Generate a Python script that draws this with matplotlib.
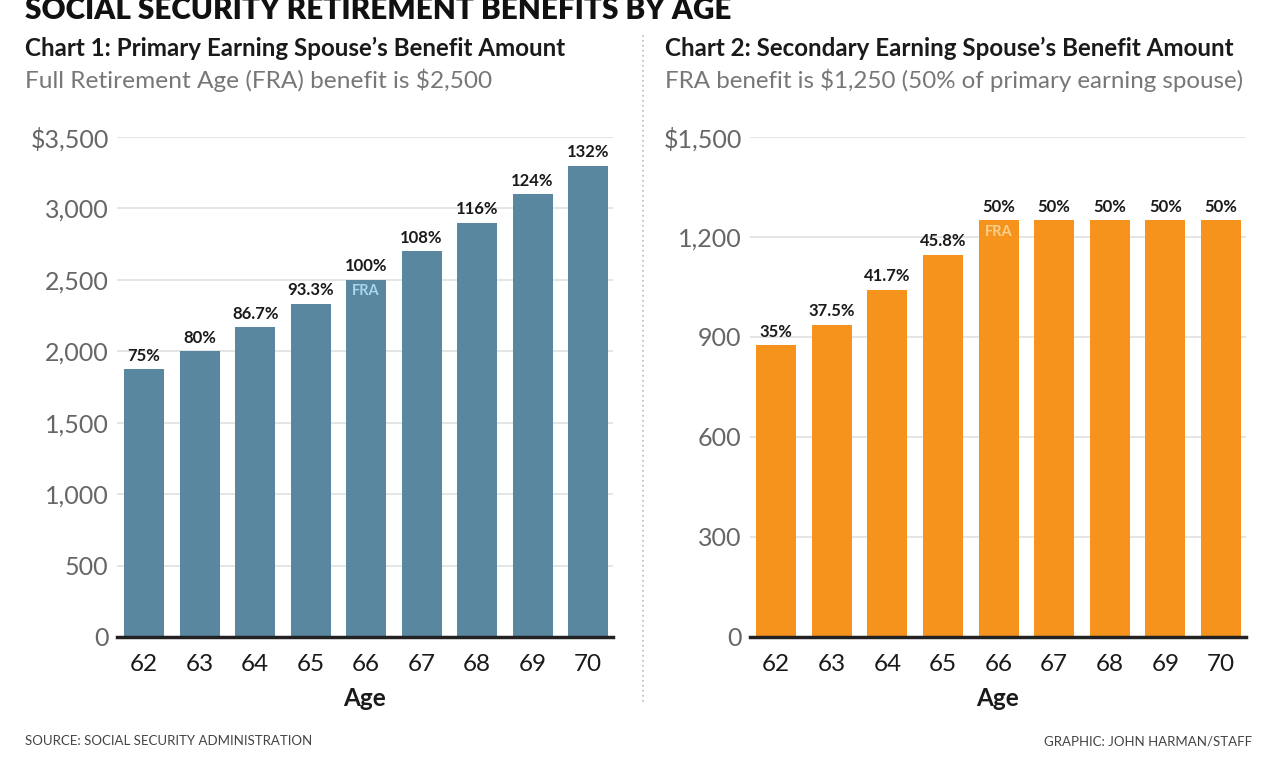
import matplotlib
matplotlib.use("Agg")
import matplotlib.pyplot as plt
from matplotlib.ticker import FuncFormatter

plt.rcParams['font.family'] = ['Lato', 'DejaVu Sans']

ages = ["62", "63", "64", "65", "66", "67", "68", "69", "70"]
primary_values = [1875, 2000, 2167, 2333, 2500, 2700, 2900, 3100, 3300]
primary_labels = ["75%", "80%", "86.7%", "93.3%", "100%", "108%", "116%", "124%", "132%"]
secondary_values = [875, 937.5, 1042, 1146, 1250, 1250, 1250, 1250, 1250]
secondary_labels = ["35%", "37.5%", "41.7%", "45.8%", "50%", "50%", "50%", "50%", "50%"]
primary_ticks = [0, 500, 1000, 1500, 2000, 2500, 3000, 3500]
secondary_ticks = [0, 300, 600, 900, 1200, 1500]
fra_index = 4

W, H = 1278, 760
fig = plt.figure(figsize=(W / 100, H / 100), dpi=100)
fig.patch.set_facecolor("white")


def px_axes(x0, x1, ytop, ybot):
    return fig.add_axes([x0 / W, 1 - ybot / H, (x1 - x0) / W, (ybot - ytop) / H])


def draw_panel(ax, values, labels, ticks, color, fra_color, xlim):
    x = list(range(len(values)))
    ax.bar(x, values, width=0.72, color=color, zorder=2)
    ax.set_xlim(*xlim)
    ax.set_ylim(0, ticks[-1])
    ax.set_yticks(ticks)
    ax.yaxis.grid(True, color="#e3e3e3", linewidth=1.3, zorder=0)
    ax.set_axisbelow(True)
    for s in ["top", "right", "left"]:
        ax.spines[s].set_visible(False)
    ax.spines["bottom"].set_color("#222222")
    ax.spines["bottom"].set_linewidth(2.5)
    ax.spines["bottom"].set_zorder(3)
    ax.tick_params(axis="y", length=0, pad=6, labelsize=18, labelcolor="#666666")
    ax.tick_params(axis="x", length=0, pad=12, labelsize=17.5)
    ax.set_xticks(x)
    ax.set_xticklabels(ages, color="#1a1a1a")
    top = ticks[-1]
    fmt = FuncFormatter(lambda v, p: ("$" if v == top else "") + f"{int(v):,}")
    ax.yaxis.set_major_formatter(fmt)
    ax.set_xlabel("Age", fontsize=17.5, fontweight="bold", color="#1a1a1a", labelpad=9)
    for xi, v, lab in zip(x, values, labels):
        ax.annotate(lab, (xi, v), xytext=(0, 4), textcoords="offset points",
                    ha="center", va="bottom", fontsize=12, fontweight="bold",
                    color="#1a1a1a")
    ax.annotate("FRA", (fra_index, values[fra_index]), xytext=(0, -3),
                textcoords="offset points", ha="center", va="top", fontsize=10.5,
                fontweight="bold", color=fra_color)


ax1 = px_axes(117, 613, 137, 637)
draw_panel(ax1, primary_values, primary_labels, primary_ticks, "#5a87a0", "#a9d6ee",
           (-0.49, 8.45))
ax2 = px_axes(750, 1246, 137, 637)
draw_panel(ax2, secondary_values, secondary_labels, secondary_ticks, "#f6931c", "#fbd08a",
           (-0.47, 8.45))

fig.text(25 / W, 1 - 10 / H, "SOCIAL SECURITY RETIREMENT BENEFITS BY AGE",
         fontsize=21.3, fontweight="heavy", color="#111111", ha="left", va="center")
fig.text(25 / W, 1 - 48 / H, "Chart 1: Primary Earning Spouse\u2019s Benefit Amount",
         fontsize=17.4, fontweight="bold", color="#1a1a1a", ha="left", va="center")
fig.text(25 / W, 1 - 80 / H, "Full Retirement Age (FRA) benefit is $2,500",
         fontsize=17.6, color="#777777", ha="left", va="center")
fig.text(665 / W, 1 - 48 / H, "Chart 2: Secondary Earning Spouse\u2019s Benefit Amount",
         fontsize=17.4, fontweight="bold", color="#1a1a1a", ha="left", va="center")
fig.text(665 / W, 1 - 80 / H, "FRA benefit is $1,250 (50% of primary earning spouse)",
         fontsize=17.4, color="#777777", ha="left", va="center")

fig.text(25 / W, 1 - 741 / H, "SOURCE: SOCIAL SECURITY ADMINISTRATION",
         fontsize=9.5, color="#444444", ha="left", va="center")
fig.text(1252 / W, 1 - 741 / H, "GRAPHIC: JOHN HARMAN/STAFF",
         fontsize=9.5, color="#444444", ha="right", va="center")

fig.add_artist(plt.Line2D([643 / W, 643 / W], [1 - 35 / H, 1 - 705 / H],
                          color="#bbbbbb", linewidth=1.2, linestyle=(0, (1, 2))))

fig.savefig("out.png", dpi=100, facecolor="white")
